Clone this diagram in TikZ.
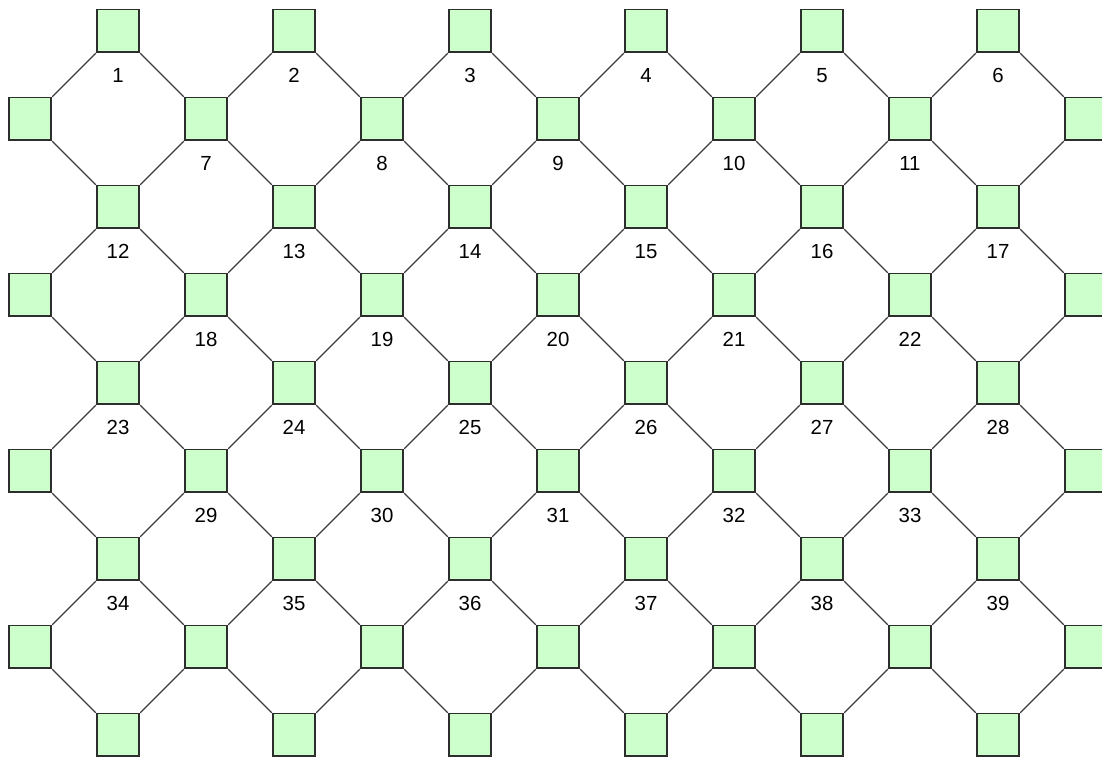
\documentclass[tikz,border=0pt]{standalone}
\usepackage{fontspec}
\setmainfont{Liberation Sans}
\usetikzlibrary{positioning}
\definecolor{cell-green}{RGB}{204,255,204}
\definecolor{cell-edge}{RGB}{45,45,45}
\definecolor{link-gray}{RGB}{60,60,60}

\begin{document}
\begin{tikzpicture}[
  cell/.style={draw=cell-edge, fill=cell-green, line width=0.55pt, minimum size=0.485cm, inner sep=0pt},
  num/.style={inner sep=0pt, text height=4.8pt, text depth=0pt, font=\fontsize{6.6}{7}\selectfont},
  link/.style={link-gray, line width=0.4pt},
]
  \useasboundingbox (0,0) rectangle (12.523,-8.636);

  % Cells
  \foreach \row in {0,2,...,8}
    \foreach \col in {1,3,...,11}
      \node[cell] (s-\col-\row) at (0.341+\col, -0.352-\row) {};
  \foreach \row in {1,3,...,7}
    \foreach \col in {0,2,...,12}
      \node[cell] (s-\col-\row) at (0.341+\col, -0.352-\row) {};

  % Numbers
  \foreach \row/\first in {0/1, 2/12, 4/23, 6/34}
    \foreach \col in {1,3,...,11} {
      \pgfmathtruncatemacro\k{\first+(\col-1)/2}
      \node[num, below=0.16cm of s-\col-\row] (n-\col-\row) {\k};
    }
  \foreach \row/\first in {1/7, 3/18, 5/29}
    \foreach \col in {2,4,...,10} {
      \pgfmathtruncatemacro\k{\first+(\col-2)/2}
      \node[num, below=0.16cm of s-\col-\row] (n-\col-\row) {\k};
    }

  % Links
  \foreach \row in {0,2,4,6}
    \foreach \col in {1,3,...,11} {
      \pgfmathtruncatemacro\nxt{\row+1}
      \pgfmathtruncatemacro\lf{\col-1}
      \pgfmathtruncatemacro\rt{\col+1}
      \draw[link] (s-\col-\row.south west) -- (s-\lf-\nxt.north east);
      \draw[link] (s-\col-\row.south east) -- (s-\rt-\nxt.north west);
    }
  \foreach \row in {1,3,5,7}
    \foreach \col in {1,3,...,11} {
      \pgfmathtruncatemacro\nxt{\row+1}
      \pgfmathtruncatemacro\lf{\col-1}
      \pgfmathtruncatemacro\rt{\col+1}
      \draw[link] (s-\lf-\row.south east) -- (s-\col-\nxt.north west);
      \draw[link] (s-\rt-\row.south west) -- (s-\col-\nxt.north east);
    }
\end{tikzpicture}
\end{document}
